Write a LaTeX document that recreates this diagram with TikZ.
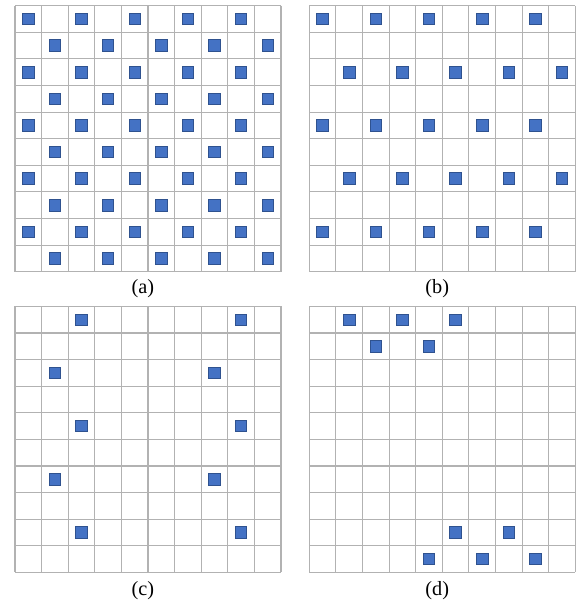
\documentclass[tikz,border=0pt]{standalone}
\usepackage{fontspec}
\setmainfont{Liberation Serif}
\usetikzlibrary{positioning}
\definecolor{gline}{HTML}{B2B2B2}
\definecolor{cfill}{HTML}{4472C4}
\definecolor{cedge}{HTML}{2F528F}
\tikzset{
  gridline/.style={draw=gline, line width=0.7pt},
  cellmark/.style={rectangle, draw=cedge, fill=cfill, line width=0.5pt,
                   minimum size=0.26cm, inner sep=0pt},
  caption/.style={font=\fontsize{13}{15}\selectfont, inner sep=0pt}
}

\begin{document}
\begin{tikzpicture}[x=0.6cm, y=-0.6cm]
  \useasboundingbox (0,0) rectangle (21.77,22.67);

  % (a) checkerboard
  \begin{scope}[shift={(0.564,0.214)}]
    \foreach \i in {0,...,10} {
      \draw[gridline] (\i,0) -- (\i,10);
      \draw[gridline] (0,\i) -- (10,\i);
    }
    \foreach \r in {0,...,9}
      \foreach \c in {0,2,4,6,8} {
        \pgfmathtruncatemacro{\cc}{\c+mod(\r,2)}
        \node[cellmark] (a-\r-\cc) at (\cc+0.5,\r+0.5) {};
      }
    \node[caption] (capa) at (4.81,10.65) {(a)};
  \end{scope}

  % (b) every other row
  \begin{scope}[shift={(11.63,0.214)}]
    \foreach \i in {0,...,10} {
      \draw[gridline] (\i,0) -- (\i,10);
      \draw[gridline] (0,\i) -- (10,\i);
    }
    \foreach \r in {0,4,8}
      \foreach \c in {0,2,4,6,8}
        \node[cellmark] (b-\r-\c) at (\c+0.5,\r+0.5) {};
    \foreach \r in {2,6}
      \foreach \c in {1,3,5,7,9}
        \node[cellmark] (b-\r-\c) at (\c+0.5,\r+0.5) {};
    \node[caption] (capb) at (4.81,10.65) {(b)};
  \end{scope}

  % (c) two columns
  \begin{scope}[shift={(0.564,11.52)}]
    \foreach \i in {0,...,10} {
      \draw[gridline] (\i,0) -- (\i,10);
      \draw[gridline] (0,\i) -- (10,\i);
    }
    \foreach \r in {0,4,8}
      \foreach \c in {2,8}
        \node[cellmark] (c-\r-\c) at (\c+0.5,\r+0.5) {};
    \foreach \r in {2,6}
      \foreach \c in {1,7}
        \node[cellmark] (c-\r-\c) at (\c+0.5,\r+0.5) {};
    \node[caption] (capc) at (4.81,10.68) {(c)};
  \end{scope}

  % (d) two clusters
  \begin{scope}[shift={(11.63,11.52)}]
    \foreach \i in {0,...,10} {
      \draw[gridline] (\i,0) -- (\i,10);
      \draw[gridline] (0,\i) -- (10,\i);
    }
    \foreach \c/\r in {1/0,3/0,5/0,2/1,4/1,5/8,7/8,4/9,6/9,8/9}
      \node[cellmark] (d-\r-\c) at (\c+0.5,\r+0.5) {};
    \node[caption] (capd) at (4.81,10.68) {(d)};
  \end{scope}
\end{tikzpicture}
\end{document}
